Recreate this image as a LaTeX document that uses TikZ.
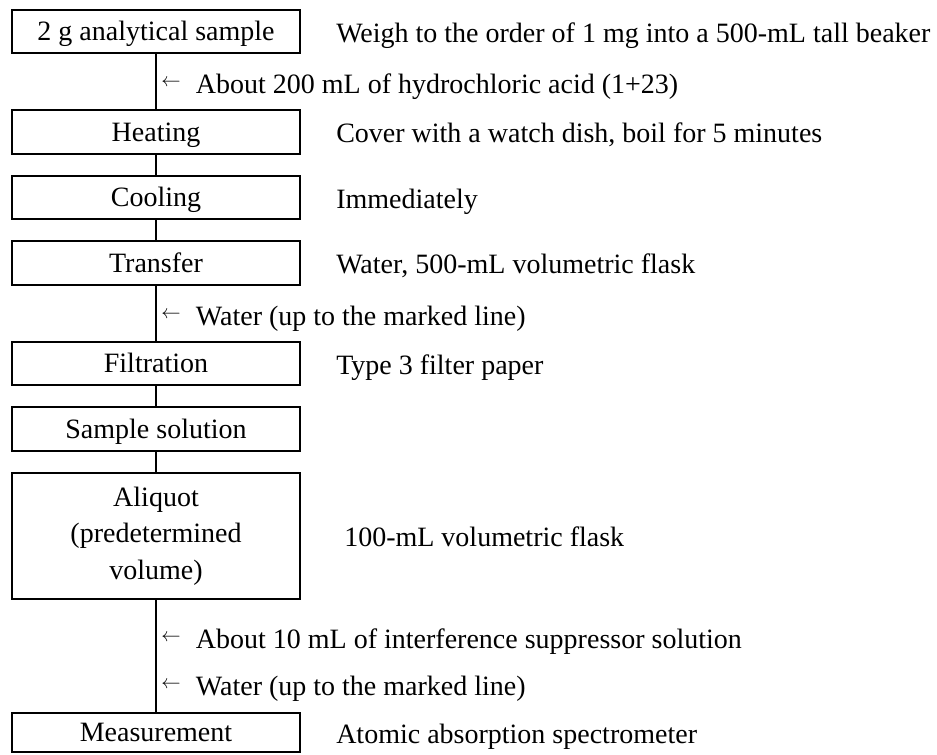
\documentclass[tikz,border=0pt]{standalone}
\usepackage{fontspec}
\setmainfont{Liberation Serif}
\usetikzlibrary{positioning}
\newcommand{\addarrow}{\raisebox{5pt}{\resizebox{14.5pt}{!}{$\leftarrow$}}\hspace{11.5pt}}
\tikzset{
  every node/.style={text height=14pt,text depth=0pt},
  stepbox/.style={draw,line width=1.5pt,minimum width=216pt,minimum height=32.5pt,inner sep=0pt,align=center},
  sidenote/.style={anchor=west,inner sep=0pt},
  addnote/.style={anchor=west,inner sep=0pt},
  link/.style={line width=1.5pt}
}

\begin{document}
\begin{tikzpicture}[x=0.75pt,y=-0.75pt,font=\fontsize{21}{27.5}\selectfont]
\useasboundingbox (0,0) rectangle (937,754);
\node[stepbox] (sample) at (156,31.5) {2 g analytical sample};
\node[stepbox] (heat) at (156,132) {Heating};
\node[stepbox] (cool) at (156,197.5) {Cooling};
\node[stepbox] (trans) at (156,263) {Transfer};
\node[stepbox] (filt) at (156,363.5) {Filtration};
\node[stepbox] (sol) at (156,429) {Sample solution};
\node[stepbox,minimum height=94.5pt,text height=,text depth=] (aliq) at (156,536) {Aliquot\\(predetermined\\volume)};
\node[stepbox,minimum height=29.5pt] (meas) at (156,732.5) {Measurement};
\draw[link] (sample)--(heat);
\draw[link] (heat)--(cool);
\draw[link] (cool)--(trans);
\draw[link] (trans)--(filt);
\draw[link] (filt)--(sol);
\draw[link] (sol)--(aliq);
\draw[link] (aliq)--(meas);
\node[addnote] (hcl) at (161,84) {\addarrow About 200 mL of hydrochloric acid (1+23)};
\node[addnote] (wat1) at (161,316) {\addarrow Water (up to the marked line)};
\node[addnote] (supp) at (161,639) {\addarrow About 10 mL of interference suppressor solution};
\node[addnote] (wat2) at (161,686) {\addarrow Water (up to the marked line)};
\node[sidenote] (weigh) at (336,33) {Weigh to the order of 1 mg into a 500-mL tall beaker};
\node[sidenote] (boil) at (336,133) {Cover with a watch dish, boil for 5 minutes};
\node[sidenote] (imm) at (336,199) {Immediately};
\node[sidenote] (flask1) at (336,264) {Water, 500-mL volumetric flask};
\node[sidenote] (paper) at (336,365) {Type 3 filter paper};
\node[sidenote] (flask2) at (344,537) {100-mL volumetric flask};
\node[sidenote] (aas) at (336,734) {Atomic absorption spectrometer};
\end{tikzpicture}
\end{document}
